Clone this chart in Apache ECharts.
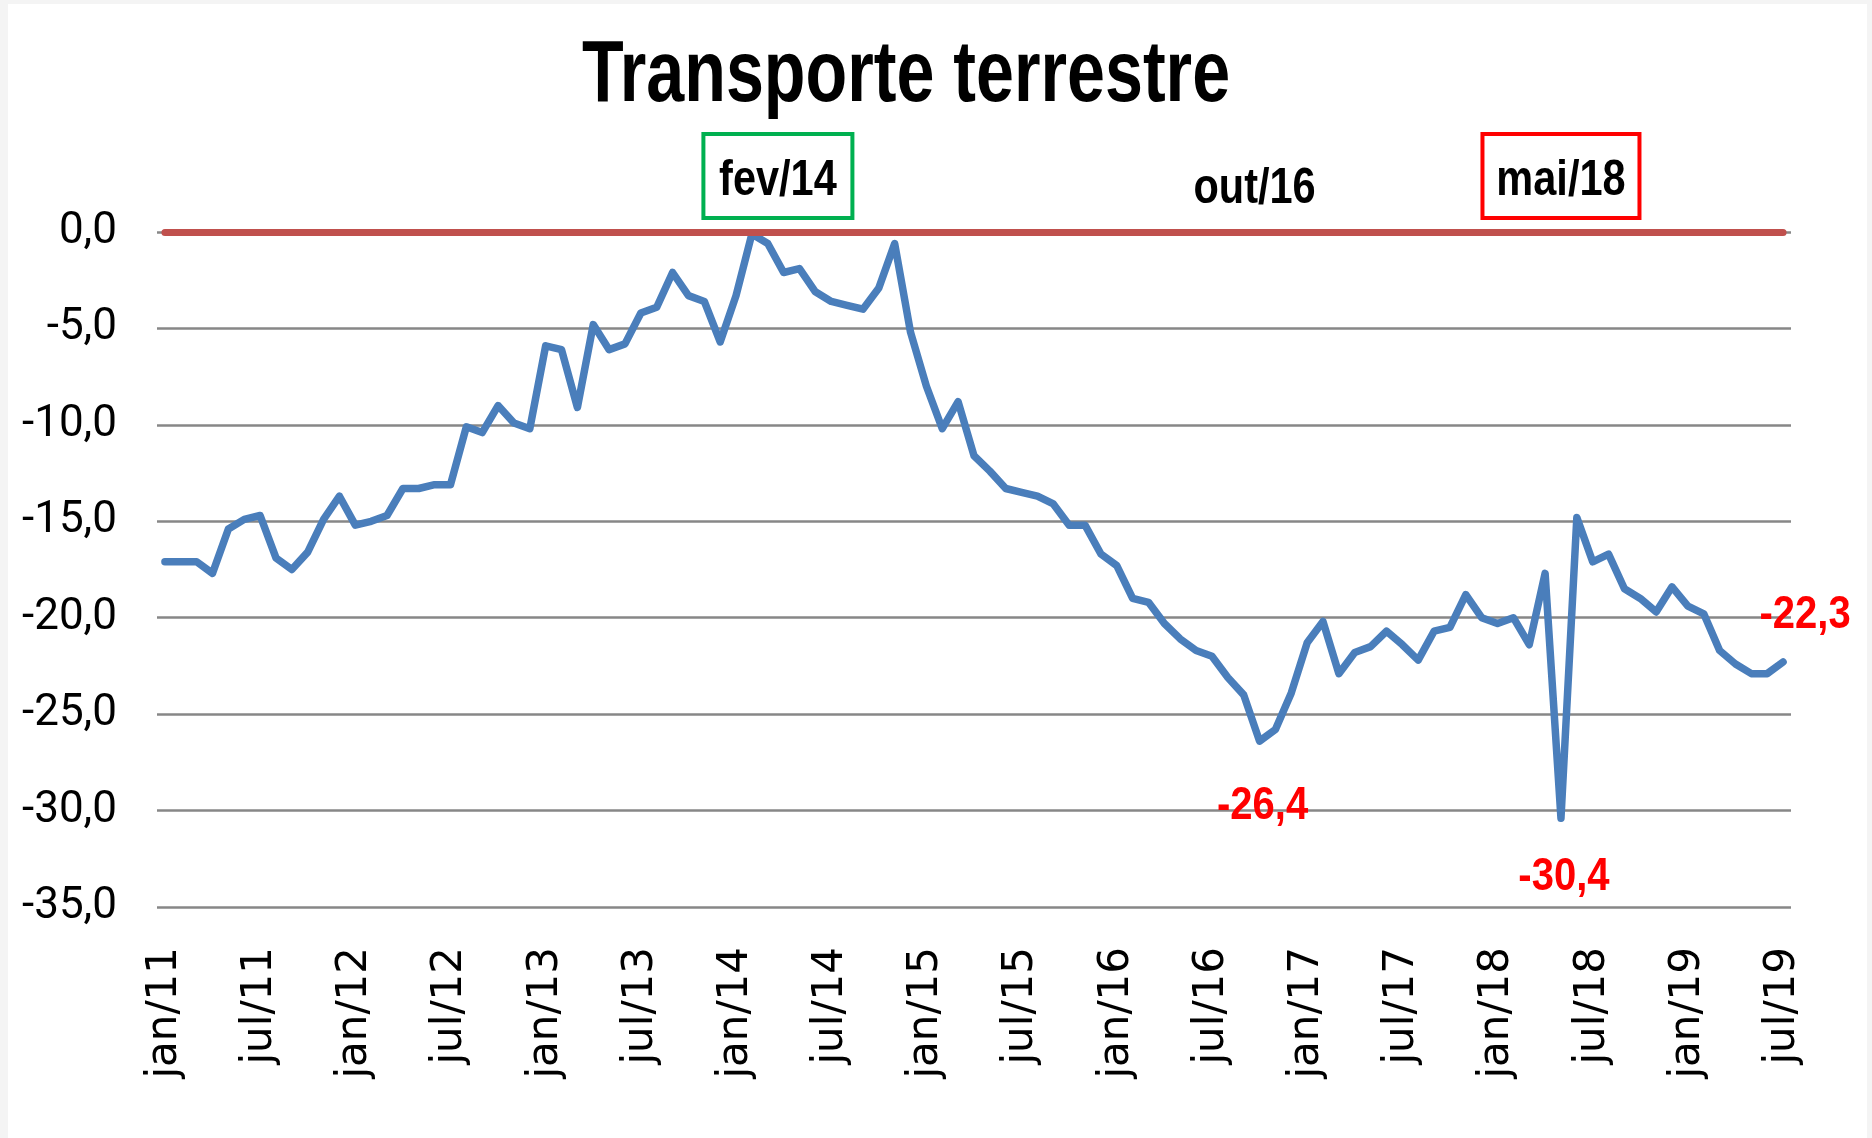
<!DOCTYPE html>
<html>
<head>
<meta charset="utf-8">
<title>Transporte terrestre</title>
<script src="https://cdn.jsdelivr.net/npm/echarts@6/dist/echarts.min.js"></script>
<style>
    html, body { margin: 0; padding: 0; background: #f4f4f4; }
    #main { width: 1872px; height: 1138px; }
</style>
</head>
<body>
<div id="main"></div>
<script>
// meses da serie, de jan/11 a jul/19
var meses = [];
var nomesMes = ['jan', 'fev', 'mar', 'abr', 'mai', 'jun', 'jul', 'ago', 'set', 'out', 'nov', 'dez'];
for (var ano = 11; ano <= 19; ano++) {
    for (var m = 0; m < 12; m++) {
        if (ano == 19 && m > 6) break;
        meses.push(nomesMes[m] + '/' + ano);
    }
}

// valores (variacao, %)
var transporte = [
    -17.1, -17.1, -17.1, -17.7, -15.4, -14.9, -14.7, -16.9, -17.5, -16.6, -14.9, -13.7,
    -15.2, -15.0, -14.7, -13.3, -13.3, -13.1, -13.1, -10.1, -10.4, -9.0, -9.9, -10.2,
    -5.9, -6.1, -9.1, -4.8, -6.1, -5.8, -4.2, -3.9, -2.1, -3.3, -3.6, -5.7,
    -3.3, -0.1, -0.6, -2.1, -1.9, -3.1, -3.6, -3.8, -4.0, -2.9, -0.6, -5.2,
    -8.0, -10.2, -8.8, -11.6, -12.4, -13.3, -13.5, -13.7, -14.1, -15.2, -15.2, -16.7,
    -17.3, -19.0, -19.2, -20.3, -21.1, -21.7, -22.0, -23.1, -24.0, -26.4, -25.8, -23.9,
    -21.3, -20.2, -22.9, -21.8, -21.5, -20.7, -21.4, -22.2, -20.7, -20.5, -18.8, -20.0,
    -20.3, -20.0, -21.4, -17.7, -30.4, -14.8, -17.1, -16.7, -18.5, -19.0, -19.7, -18.4,
    -19.4, -19.8, -21.7, -22.4, -22.9, -22.9, -22.3
];

// marcos escritos acima da linha zero
var marcos = ['fev/14', 'out/16', 'mai/18'];
// pontos com o valor destacado em vermelho
var destaques = ['out/16', 'mai/18', 'jul/19'];

// fonte negrita "estreita": Liberation Sans comprimida na horizontal
var fonteNegrito = 'bold {s}px "Liberation Sans", Arial, sans-serif';

function virgula(v) {
    return v.toFixed(1).replace('.', ',');
}

function fonte(tam) {
    return fonteNegrito.replace('{s}', tam);
}

// estilo dos marcos: fev/14 com caixa verde, out/16 sem caixa, mai/18 com caixa vermelha
// dx/dy: deslocamento do centro da caixa em relacao ao ponto na linha zero
var estiloMarco = {
    'fev/14': { borda: '#00b050', largura: 149, dx: 26, dy: -56, ty: 5 },
    'out/16': { borda: null, largura: 0, dx: -5, dy: -43, ty: 0 },
    'mai/18': { borda: '#ff0000', largura: 157, dx: 0, dy: -56, ty: 5 }
};

// deslocamento dos rotulos vermelhos em relacao ao ponto
var posDestaque = {
    'out/16': [3, 65],
    'mai/18': [3, 59],
    'jul/19': [22, -47]
};

var chart = echarts.init(document.getElementById('main'));

var option = {
    animation: false,
    backgroundColor: '#f4f4f4',
    grid: {
        left: 157,
        right: 81,
        top: 232,
        bottom: 231
    },
    xAxis: {
        type: 'category',
        data: meses,
        boundaryGap: true,
        axisLine: { show: false },
        axisTick: { show: false },
        splitLine: { show: false },
        axisLabel: {
            interval: 5,
            rotate: 90,
            margin: 40,
            color: '#000000',
            fontFamily: '"DejaVu Sans", sans-serif',
            fontSize: 42
        }
    },
    yAxis: {
        type: 'value',
        min: -35,
        max: 0,
        interval: 5,
        axisLine: { show: false },
        axisTick: { show: false },
        splitLine: { lineStyle: { color: '#878787', width: 2.5 } },
        axisLabel: {
            margin: 40,
            padding: [8, 0, 0, 0],
            color: '#000000',
            fontFamily: 'Roboto, sans-serif',
            fontSize: 44,
            formatter: function (v) { return virgula(v); }
        }
    },
    series: [
        {
            // linha vermelha em zero, do primeiro ao ultimo mes
            name: 'zero',
            type: 'line',
            data: [],
            z: 2,
            markLine: {
                silent: true,
                symbol: ['none', 'none'],
                label: { show: false },
                lineStyle: { color: '#c0504d', width: 7, type: 'solid', cap: 'round' },
                data: [[{ coord: [meses[0], 0] }, { coord: [meses[meses.length - 1], 0] }]]
            }
        },
        {
            name: 'Transporte terrestre',
            type: 'line',
            data: transporte,
            z: 3,
            symbol: 'none',
            lineStyle: { color: '#4a7ebb', width: 7.5, cap: 'round', join: 'round' },
            itemStyle: { color: '#4a7ebb' }
        }
    ]
};

chart.setOption(option);

// textos e caixas, posicionados a partir das coordenadas dos dados
var graficos = [{
    type: 'rect',
    z: -10,
    silent: true,
    shape: { x: 8, y: 4, width: 1859, height: 1134 },
    style: { fill: '#ffffff' }
}, {
    type: 'text',
    x: 906,
    y: 77,
    scaleX: 0.775,
    z: 10,
    style: {
        text: 'Transporte terrestre',
        font: fonte(88),
        fill: '#000000',
        align: 'center',
        verticalAlign: 'middle'
    }
}];

marcos.forEach(function (nome) {
    var e = estiloMarco[nome];
    var p = chart.convertToPixel({ xAxisIndex: 0, yAxisIndex: 0 }, [nome, 0]);
    var cx = p[0] + e.dx;
    var cy = p[1] + e.dy;
    if (e.borda) {
        graficos.push({
            type: 'rect',
            z: 10,
            silent: true,
            shape: { x: cx - e.largura / 2, y: cy - 42, width: e.largura, height: 84 },
            style: { fill: '#ffffff', stroke: e.borda, lineWidth: 4 }
        });
    }
    graficos.push({
        type: 'text',
        x: cx,
        y: cy + e.ty,
        scaleX: 0.83,
        z: 11,
        style: {
            text: nome,
            font: fonte(50),
            fill: '#000000',
            align: 'center',
            verticalAlign: 'middle'
        }
    });
});

destaques.forEach(function (nome) {
    var v = transporte[meses.indexOf(nome)];
    var p = chart.convertToPixel({ xAxisIndex: 0, yAxisIndex: 0 }, [nome, v]);
    var d = posDestaque[nome];
    graficos.push({
        type: 'text',
        x: p[0] + d[0],
        y: p[1] + d[1],
        scaleX: 0.87,
        z: 11,
        style: {
            text: virgula(v),
            font: fonte(46),
            fill: '#ff0000',
            align: 'center',
            verticalAlign: 'middle'
        }
    });
});

chart.setOption({ graphic: graficos });
</script>
</body>
</html>
